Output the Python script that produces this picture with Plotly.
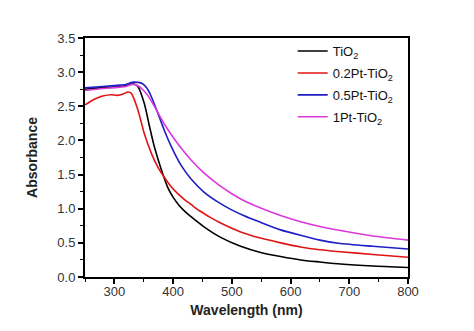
import plotly.graph_objects as go

# UV-Vis absorbance spectra of TiO2 and Pt-loaded TiO2
wl_tio2 = [250, 275, 300, 320, 332, 340, 351, 360, 368, 380, 391, 400, 410, 420, 431, 455, 481, 515, 549, 583, 617, 650, 685, 740, 800]
abs_tio2 = [2.75, 2.77, 2.78, 2.80, 2.83, 2.79, 2.54, 2.20, 1.91, 1.57, 1.31, 1.17, 1.05, 0.96, 0.88, 0.72, 0.58, 0.45, 0.36, 0.30, 0.25, 0.22, 0.19, 0.16, 0.14]

wl_02pt = [250, 265, 280, 295, 305, 315, 323, 329, 340, 351, 363, 374, 385, 396, 408, 420, 431, 445, 464, 481, 515, 549, 583, 617, 650, 685, 740, 800]
abs_02pt = [2.52, 2.60, 2.65, 2.67, 2.66, 2.68, 2.71, 2.69, 2.45, 2.10, 1.81, 1.61, 1.46, 1.33, 1.22, 1.13, 1.06, 0.97, 0.87, 0.79, 0.66, 0.57, 0.50, 0.44, 0.40, 0.37, 0.33, 0.29]

wl_05pt = [250, 280, 310, 320, 330, 340, 348, 355, 363, 374, 385, 397, 414, 431, 453, 476, 498, 520, 549, 583, 617, 650, 685, 740, 800]
abs_05pt = [2.77, 2.79, 2.81, 2.82, 2.85, 2.85, 2.83, 2.77, 2.64, 2.40, 2.15, 1.91, 1.63, 1.43, 1.24, 1.10, 0.99, 0.90, 0.80, 0.69, 0.61, 0.54, 0.49, 0.45, 0.41]

wl_1pt = [250, 280, 310, 320, 330, 340, 351, 360, 370, 385, 408, 431, 453, 476, 498, 520, 549, 583, 617, 650, 685, 740, 800]
abs_1pt = [2.73, 2.76, 2.78, 2.79, 2.82, 2.80, 2.72, 2.62, 2.47, 2.24, 1.95, 1.71, 1.52, 1.36, 1.23, 1.12, 1.01, 0.90, 0.81, 0.74, 0.68, 0.60, 0.54]

series = [
    ("TiO<sub>2</sub>", wl_tio2, abs_tio2, "#000000"),
    ("0.2Pt-TiO<sub>2</sub>", wl_02pt, abs_02pt, "#e01414"),
    ("0.5Pt-TiO<sub>2</sub>", wl_05pt, abs_05pt, "#1e1ec4"),
    ("1Pt-TiO<sub>2</sub>", wl_1pt, abs_1pt, "#dc38dc"),
]

fig = go.Figure()
for i, (name, x, y, color) in enumerate(series):
    fig.add_trace(go.Scatter(
        x=x, y=y, name=name, mode="lines", legendgroup=f"g{i}",
        line=dict(color=color, width=1.6, shape="spline", smoothing=0.6),
    ))

font_family = "Arial, Liberation Sans"
axis_common = dict(
    showline=True, linecolor="black", linewidth=2, mirror=True,
    ticks="outside", ticklen=5, tickwidth=1.5, tickcolor="black",
    showgrid=False, zeroline=False,
    tickfont=dict(family=font_family, size=13, color="#333333"),
    minor=dict(ticks="outside", ticklen=3, tickwidth=1, tickcolor="black"),
)

fig.update_xaxes(
    range=[250, 800], tickvals=[300, 400, 500, 600, 700, 800],
    minor_dtick=50, ticklabelstandoff=-4,
    title=dict(text="<b>Wavelength (nm)</b>", font=dict(family=font_family, size=14, color="#222222"), standoff=8),
    **axis_common,
)
fig.update_yaxes(
    range=[0, 3.5], dtick=0.5, tickformat=".1f",
    minor_dtick=0.25,
    title=dict(text="<b>Absorbance</b>", font=dict(family=font_family, size=14, color="#222222"), standoff=16),
    **axis_common,
)

fig.update_layout(
    width=474, height=331,
    margin=dict(l=85, r=66, t=38, b=54),
    paper_bgcolor="white", plot_bgcolor="white",
    showlegend=True,
    legend=dict(
        x=0.643, y=1.008, xanchor="left", yanchor="top",
        bgcolor="rgba(0,0,0,0)", borderwidth=0,
        font=dict(family=font_family, size=13, color="#111111"),
        itemwidth=30, tracegroupgap=2,
    ),
)

fig.write_html("out.html")
